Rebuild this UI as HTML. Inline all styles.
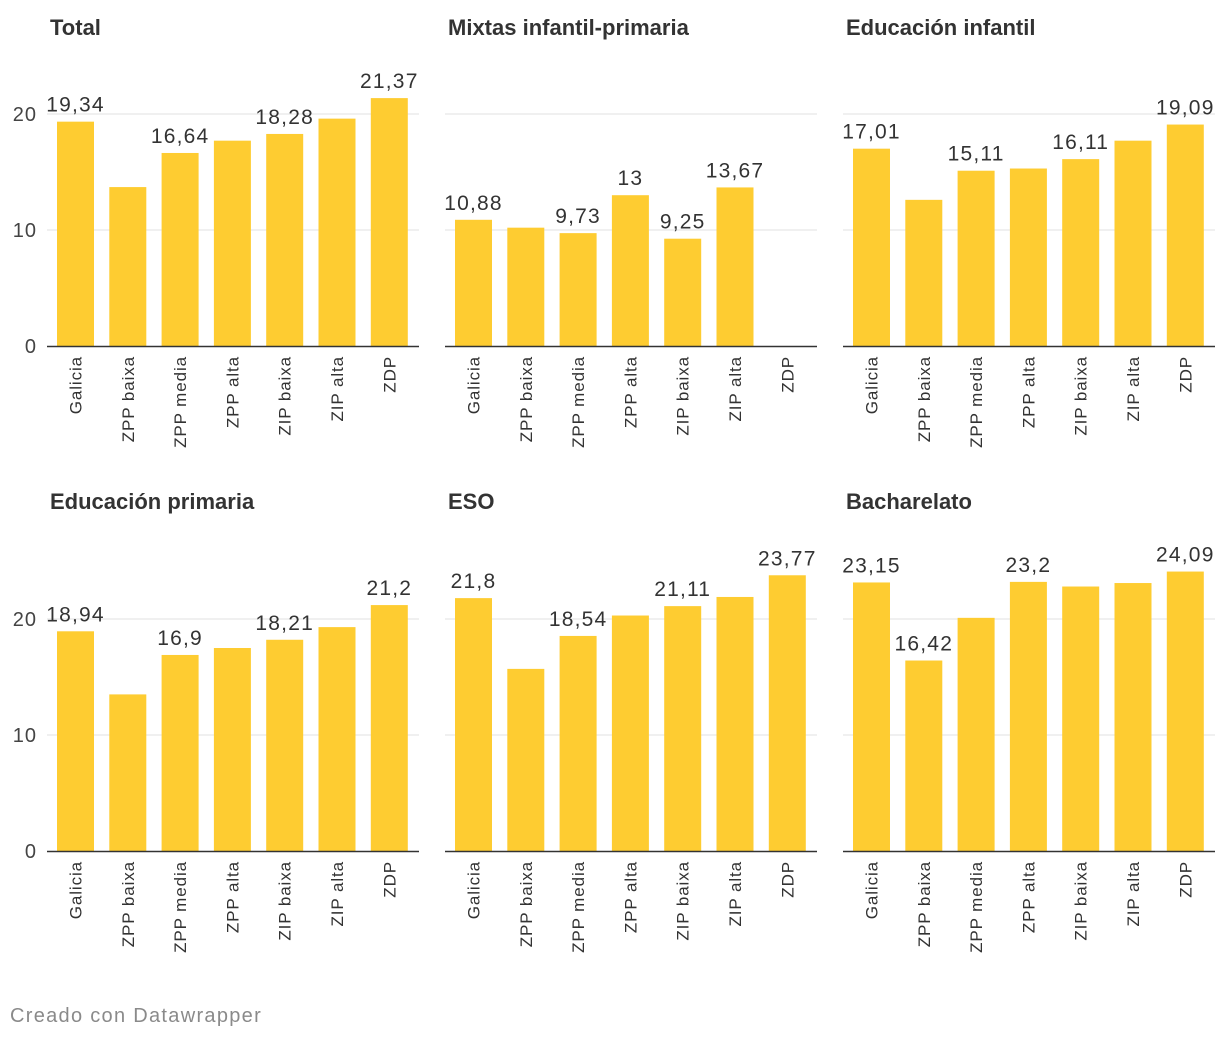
<!DOCTYPE html>
<html><head><meta charset="utf-8">
<style>
html,body{margin:0;padding:0;background:#fff;width:1220px;height:1040px;overflow:hidden}
svg{display:block;font-family:"Liberation Sans",sans-serif}
</style></head>
<body>
<svg id="chart" width="1220" height="1040"></svg>
<script>
const categories = ["Galicia","ZPP baixa","ZPP media","ZPP alta","ZIP baixa","ZIP alta","ZDP"];
const titles = ["Total","Mixtas infantil-primaria","Educación infantil","Educación primaria","ESO","Bacharelato"];
const valsTotal = [19.34,13.7,16.64,17.7,18.28,19.6,21.37];
const valsMixtas = [10.88,10.2,9.73,13,9.25,13.67,null];
const valsInfantil = [17.01,12.6,15.11,15.3,16.11,17.7,19.09];
const valsPrimaria = [18.94,13.5,16.9,17.5,18.21,19.3,21.2];
const valsESO = [21.8,15.7,18.54,20.3,21.11,21.9,23.77];
const valsBach = [23.15,16.42,20.1,23.2,22.8,23.1,24.09];
const showTotal = [1,0,1,0,1,0,1];
const showMixtas = [1,0,1,1,1,1,0];
const showInfantil = [1,0,1,0,1,0,1];
const showPrimaria = [1,0,1,0,1,0,1];
const showESO = [1,0,1,0,1,0,1];
const showBach = [1,1,0,1,0,0,1];
const yTicks = [0,10,20];

const series=[valsTotal,valsMixtas,valsInfantil,valsPrimaria,valsESO,valsBach];
const shows=[showTotal,showMixtas,showInfantil,showPrimaria,showESO,showBach];
const NS="http://www.w3.org/2000/svg";
const svg=document.getElementById('chart');
function mk(tag,attrs,parent){const e=document.createElementNS(NS,tag);for(const k in attrs)e.setAttribute(k,attrs[k]);(parent||svg).appendChild(e);return e;}
const colX=[47,445,843], rowBase=[346,851], pw=372, unit=11.6, step=52.3, bw=37;
function fmt(v){return String(v).replace('.',',');}
for(let p=0;p<6;p++){
  const col=p%3,row=Math.floor(p/3);
  const x0=colX[col], base=rowBase[row];
  const y=v=>base-v*unit;
  const xb=i=>x0+10+i*step;
  const g=mk('g',{});
  
  
  const t=mk('text',{x:x0+3,y:(row?501:27)+8,'font-size':22,'font-weight':'bold',fill:'#333'},g);
  t.textContent=titles[p];
  
  
  yTicks.forEach(tv=>{
    if(tv>0){const l=mk('line',{x1:x0,x2:x0+pw,y1:y(tv),y2:y(tv),stroke:'#e2e2e2','stroke-width':1},g);
      }
    if(col===0){const tt=mk('text',{x:37,y:y(tv)+7,'font-size':20,fill:'#444','text-anchor':'end','letter-spacing':1},g);tt.textContent=tv;
      }
  });
  const vals=series[p],sh=shows[p];
  categories.forEach((c,i)=>{
    const v=vals[i];
    if(v!==null){
      const r=mk('rect',{x:xb(i),y:y(v),width:bw,height:v*unit,fill:'#fecc31'},g);
      
      
      if(sh[i]){const vt=mk('text',{x:xb(i)+bw/2,y:y(v)-10,'font-size':21,fill:'#333','text-anchor':'middle','letter-spacing':1.2},g);vt.textContent=fmt(v);
        }
    }
    const cx=xb(i)+bw/2+6, ty=base+10;
    const ct=mk('text',{x:cx,y:ty,'font-size':17,fill:'#333','text-anchor':'end','letter-spacing':0.9,transform:`rotate(-90 ${cx} ${ty})`},g);
    ct.textContent=c;
    
    
  });
  const ax=mk('line',{x1:x0,x2:x0+pw,y1:base+0.5,y2:base+0.5,stroke:'#333','stroke-width':1.5},g);
  
  
}
const f=mk('text',{x:10,y:1022,'font-size':20,fill:'#8a8a8a','letter-spacing':1.3});
f.textContent='Creado con Datawrapper';


</script>
</body></html>
